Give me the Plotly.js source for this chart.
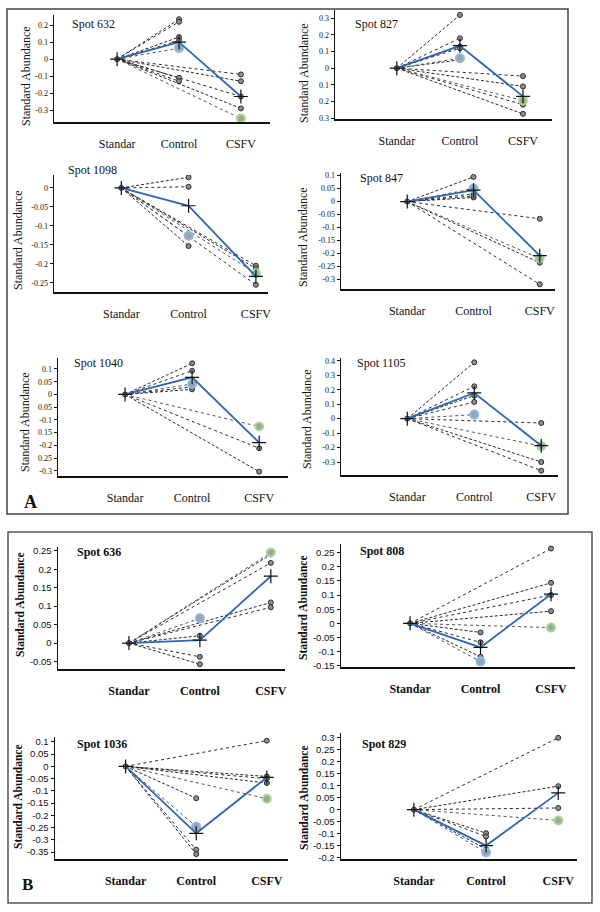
<!DOCTYPE html>
<html>
<head>
<meta charset="utf-8">
<script src="https://cdn.plot.ly/plotly-3.0.1.min.js"></script>
<style>html,body{margin:0;padding:0;background:#fff}#graph{width:600px;height:912px}</style>
</head>
<body>
<div id="graph"></div>
<script>
const categories = ['Standar', 'Control', 'CSFV'];
const spotNames = ['Spot 632', 'Spot 827', 'Spot 1098', 'Spot 847', 'Spot 1040', 'Spot 1105',
    'Spot 636', 'Spot 808', 'Spot 1036', 'Spot 829'];

// replicate end values (every line starts at Standar = 0)
const ctrl632 = [0.235, 0.22, 0.13, 0.11, -0.11, -0.13];
const csfv632 = [-0.09, -0.13, -0.22, -0.29];
const ctrl827 = [0.32, 0.18, 0.13, 0.12, 0.05];
const csfv827 = [-0.048, -0.11, -0.22, -0.275];
const ctrl1098 = [0.028, 0.003, -0.153];
const csfv1098 = [-0.205, -0.212, -0.255];
const ctrl847 = [0.095, 0.03, 0.016, 0.022];
const csfv847 = [-0.066, -0.235, -0.318];
const ctrl1040 = [0.122, 0.093, 0.02, 0.03];
const csfv1040 = [-0.211, -0.303];
const ctrl1105 = [0.39, 0.224, 0.16, 0.116];
const csfv1105 = [-0.03, -0.3, -0.36];
const ctrl636 = [0.02, -0.037, -0.057];
const csfv636 = [0.217, 0.11, 0.097, 0.24];
const ctrl808 = [-0.032, -0.067, -0.118];
const csfv808 = [0.264, 0.143, 0.1, 0.043];
const ctrl1036 = [-0.13, -0.34, -0.358];
const csfv1036 = [0.105, -0.041, -0.05, -0.068];
const ctrl829 = [-0.098, -0.112, -0.165];
const csfv829 = [0.30, 0.098, 0.007];

const meanCtrl = [0.10, 0.135, -0.047, 0.044, 0.067, 0.178, 0.008, -0.085, -0.273, -0.15];
const meanCsfv = [-0.22, -0.17, -0.233, -0.208, -0.189, -0.187, 0.181, 0.103, -0.045, 0.07];
const blueCtrl = [0.065, 0.06, -0.126, 0.05, 0.041, 0.028, 0.067, -0.135, -0.246, -0.179];
const greenCsfv = [-0.35, -0.195, -0.225, -0.218, -0.126, -0.19, 0.245, -0.015, -0.132, -0.045];

// y tick values (and labels where the figure prints them oddly)
const ticks632 = [-0.3, -0.2, -0.1, 0, 0.1, 0.2];
const ticks827 = [-0.3, -0.2, -0.1, 0, 0.1, 0.2, 0.3];
const labels827 = ['0.3', '0.2', '0.1', '0', '0.1', '0.2', '0.3'];
const ticks1098 = [-0.25, -0.2, -0.15, -0.1, -0.05, 0];
const ticks847 = [-0.3, -0.25, -0.2, -0.15, -0.1, -0.05, 0, 0.05, 0.1];
const ticks1040 = [-0.3, -0.25, -0.2, -0.15, -0.1, -0.05, 0, 0.05, 0.1];
const labels1040 = ['-0.3', '0.25', '-0.2', '0.15', '-0.1', '0.05', '0', '0.05', '0.1'];
const ticks1105 = [-0.3, -0.2, -0.1, 0, 0.1, 0.2, 0.3, 0.4];
const ticks636 = [-0.05, 0, 0.05, 0.1, 0.15, 0.2, 0.25];
const ticks808 = [-0.15, -0.1, -0.05, 0, 0.05, 0.1, 0.15, 0.2, 0.25];
const ticks1036 = [-0.35, -0.3, -0.25, -0.2, -0.15, -0.1, -0.05, 0, 0.05, 0.1];
const ticks829 = [-0.2, -0.15, -0.1, -0.05, 0, 0.05, 0.1, 0.15, 0.2, 0.25, 0.3];

const ctrlVals = [ctrl632, ctrl827, ctrl1098, ctrl847, ctrl1040, ctrl1105, ctrl636, ctrl808, ctrl1036, ctrl829];
const csfvVals = [csfv632, csfv827, csfv1098, csfv847, csfv1040, csfv1105, csfv636, csfv808, csfv1036, csfv829];
const tickVals = [ticks632, ticks827, ticks1098, ticks847, ticks1040, ticks1105, ticks636, ticks808, ticks1036, ticks829];
const tickLabels = [null, labels827, null, null, labels1040, null, null, null, null, null];

// panel geometry in pixels: plot box, axis ranges, label spots
const frames = [
    { l: 54, r: 270, t: 15, b: 122, xr: [-1.02, 2.47], yr: [-0.37, 0.26], name: [70, 24], title: [26, 76] },
    { l: 335, r: 552, t: 10, b: 119, xr: [-0.98, 2.46], yr: [-0.306, 0.35], name: [353, 24], title: [304, 73] },
    { l: 54, r: 268, t: 175, b: 292, xr: [-1.0, 2.18], yr: [-0.274, 0.034], name: [66, 170], title: [18, 240] },
    { l: 341, r: 555, t: 173, b: 289, xr: [-1.0, 2.23], yr: [-0.336, 0.11], name: [358, 178], title: [303, 237] },
    { l: 58, r: 288, t: 358, b: 476, xr: [-1.0, 2.43], yr: [-0.32, 0.143], name: [72, 363], title: [25, 422] },
    { l: 341, r: 558, t: 358, b: 475, xr: [-0.99, 2.25], yr: [-0.39, 0.42], name: [355, 363], title: [307, 419] },
    { l: 58, r: 285, t: 547, b: 669, xr: [-1.0, 2.2], yr: [-0.07, 0.26], name: [75, 552], title: [20, 605] },
    { l: 341, r: 575, t: 544, b: 667, xr: [-0.98, 2.34], yr: [-0.154, 0.28], name: [358, 551], title: [303, 608] },
    { l: 55, r: 288, t: 737, b: 859, xr: [-1.0, 2.3], yr: [-0.378, 0.12], name: [75, 744], title: [18, 797] },
    { l: 341, r: 577, t: 733, b: 859, xr: [-1.01, 2.26], yr: [-0.206, 0.32], name: [360, 744], title: [304, 798] }
];

const W = 600, H = 912;
const px = x => x / W;
const py = y => 1 - y / H;
const serif = '"Liberation Serif", "Times New Roman", serif';
const sans = '"Liberation Sans", Arial, sans-serif';

const traces = [];
const layout = {
    width: W,
    height: H,
    margin: { l: 0, r: 0, t: 0, b: 0 },
    showlegend: false,
    paper_bgcolor: 'white',
    plot_bgcolor: 'rgba(0,0,0,0)',
    font: { family: serif, color: '#111' },
    annotations: [],
    shapes: [
        { type: 'rect', xref: 'paper', yref: 'paper', x0: px(7), x1: px(568), y0: py(514), y1: py(9),
          line: { color: '#444', width: 1.5 } },
        { type: 'rect', xref: 'paper', yref: 'paper', x0: px(8), x1: px(592), y0: py(903), y1: py(532),
          line: { color: '#555', width: 1.5 } }
    ]
};

spotNames.forEach((spot, i) => {
    const f = frames[i];
    const partB = i >= 6;
    const xa = i === 0 ? 'x' : `x${i + 1}`;
    const ya = i === 0 ? 'y' : `y${i + 1}`;
    const dashLine = k => ({ color: '#2a2a2a', width: 1, dash: k % 2 ? 'dot' : '3px,2px' });

    // replicate lines
    ctrlVals[i].forEach((v, k) => {
        traces.push({ x: [0, 1], y: [0, v], mode: 'lines', line: dashLine(k), xaxis: xa, yaxis: ya });
    });
    csfvVals[i].forEach((v, k) => {
        traces.push({ x: [0, 2], y: [0, v], mode: 'lines', line: dashLine(k + 1), xaxis: xa, yaxis: ya });
    });
    traces.push({ x: [0, 1], y: [0, blueCtrl[i]], mode: 'lines', line: { color: '#555', width: 1, dash: 'dot' }, xaxis: xa, yaxis: ya });
    traces.push({ x: [0, 2], y: [0, greenCsfv[i]], mode: 'lines', line: { color: '#555', width: 1, dash: 'dot' }, xaxis: xa, yaxis: ya });

    // end points
    traces.push({
        x: ctrlVals[i].map(() => 1).concat(csfvVals[i].map(() => 2), [0]),
        y: ctrlVals[i].concat(csfvVals[i], [0]),
        mode: 'markers',
        marker: { symbol: 'circle', size: 5, color: '#8f8f8f', line: { color: '#2a2a2a', width: 1 } },
        xaxis: xa, yaxis: ya
    });

    // highlighted samples
    traces.push({
        x: [1], y: [blueCtrl[i]], mode: 'markers',
        marker: { symbol: 'circle', size: 8, color: '#a3a3a3', line: { color: '#8ab8ec', width: 2 } },
        xaxis: xa, yaxis: ya
    });
    traces.push({
        x: [2], y: [greenCsfv[i]], mode: 'markers',
        marker: { symbol: 'circle', size: 8, color: '#a3a3a3', line: { color: '#a4dc8c', width: 2 } },
        xaxis: xa, yaxis: ya
    });

    // mean profile
    traces.push({
        x: [0, 1, 2],
        y: [0, meanCtrl[i], meanCsfv[i]],
        mode: 'lines+markers',
        line: { color: '#2f66b3', width: 1.8 },
        marker: { symbol: 'cross-thin', size: 10, color: '#111', line: { color: '#111', width: 1.2 } },
        xaxis: xa, yaxis: ya
    });

    const tickFont = partB ? { family: sans, size: 9.5, color: '#111' } : { family: serif, size: 8, color: '#111' };
    const catFont = partB
        ? { family: serif, size: 12, color: '#111', weight: 'bold' }
        : { family: serif, size: 12, color: '#111' };

    layout[`xaxis${i === 0 ? '' : i + 1}`] = {
        domain: [px(f.l), px(f.r)],
        range: f.xr,
        anchor: ya,
        tickvals: [0, 1, 2],
        ticktext: categories,
        ticks: '',
        ticklabelstandoff: 10,
        tickfont: catFont,
        showline: true,
        linecolor: '#111',
        linewidth: 1.5,
        showgrid: false,
        zeroline: false,
        fixedrange: true
    };
    layout[`yaxis${i === 0 ? '' : i + 1}`] = {
        domain: [py(f.b), py(f.t)],
        range: f.yr,
        anchor: xa,
        tickvals: tickVals[i],
        ticktext: tickLabels[i] || tickVals[i].map(v => String(v)),
        ticks: 'outside',
        ticklen: 3,
        tickcolor: '#111',
        tickfont: tickFont,
        showline: true,
        linecolor: '#111',
        linewidth: 1.5,
        showgrid: false,
        zeroline: false,
        fixedrange: true
    };

    layout.annotations.push({
        text: spot, xref: 'paper', yref: 'paper', x: px(f.name[0]), y: py(f.name[1]),
        xanchor: 'left', yanchor: 'middle', showarrow: false,
        font: partB ? { family: serif, size: 12, color: '#111', weight: 'bold' } : { family: serif, size: 12, color: '#111' }
    });
    layout.annotations.push({
        text: 'Standard Abundance', xref: 'paper', yref: 'paper', x: px(f.title[0]), y: py(f.title[1]),
        xanchor: 'center', yanchor: 'middle', textangle: -90, showarrow: false,
        font: partB ? { family: serif, size: 11.5, color: '#111', weight: 'bold' } : { family: serif, size: 12, color: '#111' }
    });
});

layout.annotations.push({
    text: 'A', xref: 'paper', yref: 'paper', x: px(30), y: py(502), showarrow: false,
    xanchor: 'center', yanchor: 'middle', font: { family: serif, size: 18, color: '#111', weight: 'bold' }
});
layout.annotations.push({
    text: 'B', xref: 'paper', yref: 'paper', x: px(27), y: py(884), showarrow: false,
    xanchor: 'center', yanchor: 'middle', font: { family: serif, size: 17, color: '#111', weight: 'bold' }
});

Plotly.newPlot('graph', traces, layout, { staticPlot: true, displayModeBar: false });
</script>
</body>
</html>
